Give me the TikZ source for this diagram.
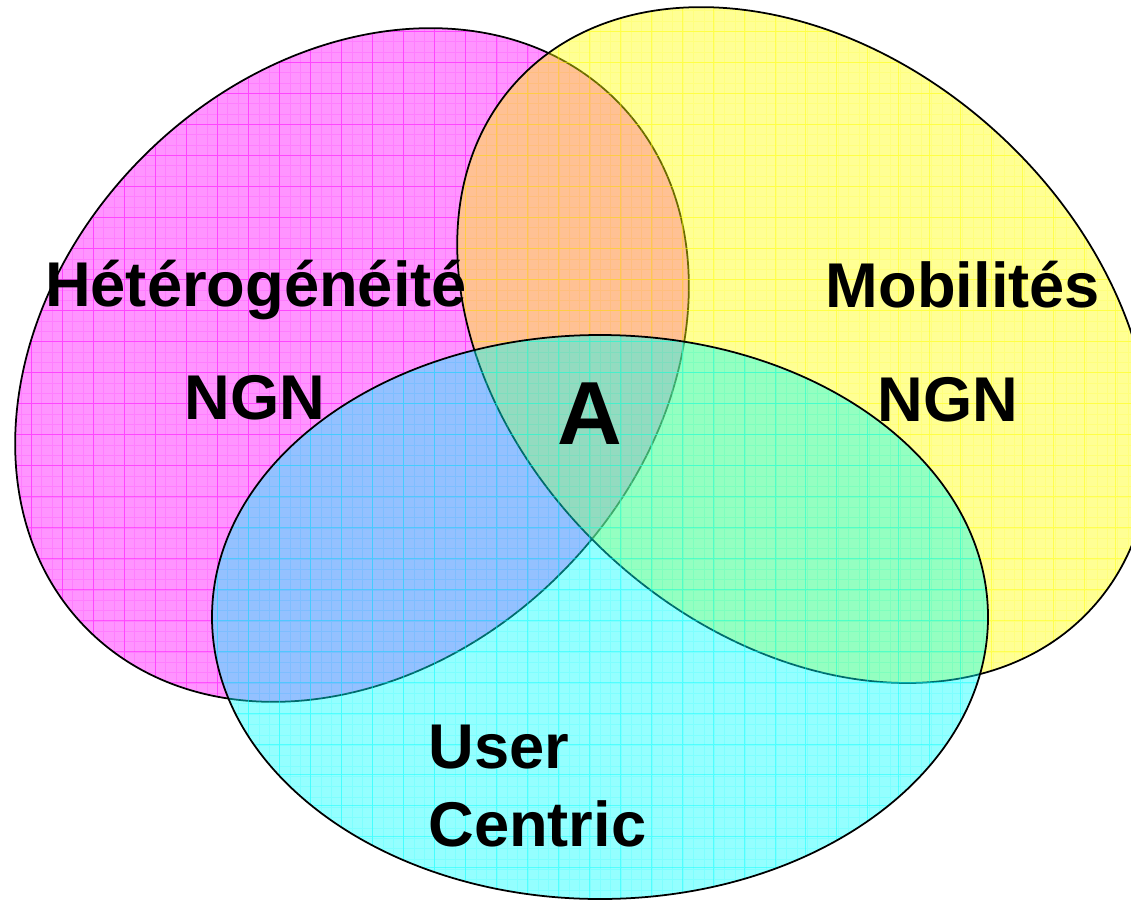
\documentclass[tikz,border=0pt]{standalone}
\usepackage{fontspec}
\setmainfont{Liberation Sans}
\definecolor{hetcol}{RGB}{255,0,255}
\definecolor{mobcol}{RGB}{255,255,0}
\definecolor{usrcol}{RGB}{0,255,255}
\begin{document}
\begin{tikzpicture}[x=0.02cm,y=-0.02cm]
\tikzset{
	zone/.style={fill opacity=.42},
	rim/.style={draw=black, line width=1pt},
	mesh/.style={line width=.4pt, opacity=.45, step=0.62cm},
	fine/.style={line width=.2pt, opacity=.15, step=0.207cm},
	t/.style={font=\fontsize{36}{40}\selectfont\bfseries, inner sep=0pt, anchor=base},
	big/.style={font=\fontsize{51}{56}\selectfont\bfseries, inner sep=0pt, anchor=base}
}
\useasboundingbox (0,0) rectangle (1131,902);

% centres des ellipses
\coordinate (het) at (352,365);
\coordinate (mob) at (804,345);
\coordinate (usr) at (600,617);

% Heterogeneite
\begin{scope}
\clip[rotate around={45:(het)}] (het) ellipse [x radius=374, y radius=295];
\fill[hetcol, zone] (0,0) rectangle (1131,902);
\draw[hetcol, fine] (0,0) grid (1131,902);
\draw[hetcol, mesh] (0,0) grid (1131,902);
\end{scope}
\draw[rim, rotate around={45:(het)}] (het) ellipse [x radius=374, y radius=295];

% Mobilites
\begin{scope}
\clip[rotate around={137.5:(mob)}] (mob) ellipse [x radius=390, y radius=287];
\fill[mobcol, zone] (0,0) rectangle (1131,902);
\draw[mobcol, fine] (0,0) grid (1131,902);
\draw[mobcol, mesh] (0,0) grid (1131,902);
\end{scope}
\draw[rim, rotate around={137.5:(mob)}] (mob) ellipse [x radius=390, y radius=287];

% User Centric
\begin{scope}
\clip (usr) ellipse [x radius=388, y radius=282];
\fill[usrcol, zone] (0,0) rectangle (1131,902);
\draw[usrcol, fine] (0,0) grid (1131,902);
\draw[usrcol, mesh] (0,0) grid (1131,902);
\end{scope}
\draw[rim] (usr) ellipse [x radius=388, y radius=282];

% textes
\node[t] (het_t) at (256,306) {Hétérogénéité};
\node[t] (het_n) at (255,419) {NGN};
\node[t] (mob_t) at (963,307) {Mobilités};
\node[t] (mob_n) at (948,421) {NGN};
\node[big] (a) at (590,444) {A};
\node[t, anchor=base west] (usr_t) at (428,768) {User};
\node[t, anchor=base west] (usr_c) at (428,846) {Centric};

\end{tikzpicture}
\end{document}
